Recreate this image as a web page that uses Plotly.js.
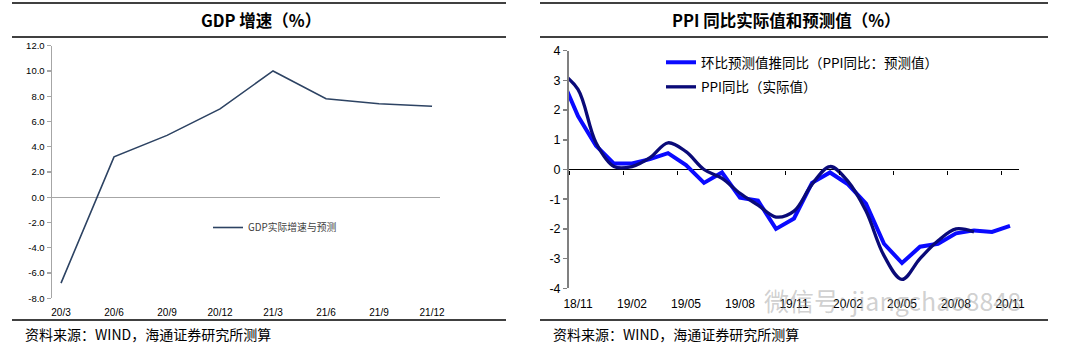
<!DOCTYPE html>
<html>
<head>
<meta charset="utf-8">
<script src="https://cdn.plot.ly/plotly-3.0.1.min.js"></script>
<style>
  html, body { margin: 0; padding: 0; background: #ffffff; }
  #chart { width: 1065px; height: 358px; }
</style>
</head>
<body>
<div id="chart"></div>
<script>
// ---------------- data ----------------
const gdpQuarters = ["20/3", "20/6", "20/9", "20/12", "21/3", "21/6", "21/9", "21/12"];
const gdpGrowth = [-6.8, 3.2, 4.9, 7.0, 10.0, 7.8, 7.4, 7.2];
const gdpSeriesName = "GDP实际增速与预测";

const ppiMonths = ["18/10", "18/11", "18/12", "19/01", "19/02", "19/03", "19/04", "19/05", "19/06",
  "19/07", "19/08", "19/09", "19/10", "19/11", "19/12", "20/01", "20/02", "20/03", "20/04",
  "20/05", "20/06", "20/07", "20/08", "20/09", "20/10", "20/11"];
const ppiForecast = [3.2, 1.8, 0.8, 0.2, 0.2, 0.35, 0.55, 0.15, -0.45, -0.1, -0.95, -1.05, -2.0,
  -1.65, -0.45, -0.1, -0.5, -1.15, -2.5, -3.15, -2.6, -2.5, -2.15, -2.05, -2.1, -1.9];
const ppiActual = [3.3, 2.7, 0.9, 0.1, 0.1, 0.4, 0.9, 0.6, 0.0, -0.3, -0.8, -1.2, -1.6, -1.4,
  -0.5, 0.1, -0.4, -1.4, -2.9, -3.7, -3.0, -2.4, -2.0, -2.1];
const ppiLabelMonths = ["18/11", "19/02", "19/05", "19/08", "19/11", "20/02", "20/05", "20/08", "20/11"];
const forecastName = "环比预测值推同比（PPI同比：预测值）";
const actualName = "PPI同比（实际值）";

const gdpTicks = [-8, -6, -4, -2, 0, 2, 4, 6, 8, 10, 12];
const ppiTicks = [-4, -3, -2, -1, 0, 1, 2, 3, 4];

// ---------------- helpers ----------------
const W = 1065, H = 358;
const px = v => v / W;
const py = v => 1 - v / H;
const FONT = "Liberation Sans, Arial, Noto Sans CJK SC, sans-serif";
const CJK = "Noto Sans CJK SC, Liberation Sans, sans-serif";

const idx = m => ppiMonths.indexOf(m);
const ppiX = ppiMonths.map((m, i) => i);
const labelIdx = ppiLabelMonths.map(idx);
const boundaryTicks = labelIdx.map(i => i - 0.5);

// ---------------- traces ----------------
const traces = [
  {
    type: "scatter", mode: "lines", name: gdpSeriesName,
    x: gdpQuarters, y: gdpGrowth, xaxis: "x", yaxis: "y",
    line: { color: "#2d4363", width: 1.6 },
    legend: "legend", hoverinfo: "skip"
  },
  {
    type: "scatter", mode: "lines", name: forecastName,
    x: ppiX.slice(0, ppiForecast.length), y: ppiForecast, xaxis: "x2", yaxis: "y2",
    line: { color: "#0a0aff", width: 4 },
    legend: "legend2", legendgroup: "f", hoverinfo: "skip"
  },
  {
    type: "scatter", mode: "lines", name: actualName,
    x: ppiX.slice(0, ppiActual.length), y: ppiActual, xaxis: "x2", yaxis: "y2",
    line: { color: "#0a0a78", width: 3.3, shape: "spline", smoothing: 1 },
    legend: "legend2", legendgroup: "a", hoverinfo: "skip"
  },
  {
    type: "scatter", mode: "lines", x: [], y: [], xaxis: "x3", yaxis: "y2",
    showlegend: false, hoverinfo: "skip"
  }
];

// ---------------- layout ----------------
const ruleY = [3, 37, 320];
const shapes = [];
ruleY.forEach(y => {
  shapes.push({ type: "line", xref: "paper", yref: "paper", x0: px(12), x1: px(506), y0: py(y), y1: py(y), line: { color: "#000", width: 1.5 } });
  shapes.push({ type: "line", xref: "paper", yref: "paper", x0: px(540), x1: px(1048), y0: py(y), y1: py(y), line: { color: "#000", width: 1.5 } });
});

const layout = {
  width: W, height: H,
  margin: { l: 0, r: 0, t: 0, b: 0 },
  paper_bgcolor: "#ffffff", plot_bgcolor: "rgba(0,0,0,0)",
  font: { family: FONT, color: "#000" },
  showlegend: true,
  // ---- left chart ----
  xaxis: {
    type: "category", domain: [px(52), px(440)], range: [-0.17, 7.15],
    anchor: "y", showline: false, showgrid: false, zeroline: false,
    ticks: "outside", ticklen: 5, tickcolor: "rgba(0,0,0,0)",
    tickfont: { family: FONT, size: 10, color: "#000" }
  },
  yaxis: {
    domain: [py(298.3), py(45.7)], range: [-8, 12], anchor: "x",
    tickvals: gdpTicks, ticktext: gdpTicks.map(v => v.toFixed(1)),
    showline: true, linecolor: "#a6a6a6", linewidth: 1.5,
    ticks: "outside", ticklen: 4, tickcolor: "#a6a6a6", tickwidth: 1.2,
    showgrid: false, zeroline: true, zerolinecolor: "#a6a6a6", zerolinewidth: 1.5,
    tickfont: { family: FONT, size: 9.5, color: "#000" }
  },
  // ---- right chart ----
  xaxis2: {
    type: "linear", domain: [px(569), px(1019)], range: [0.5, 25.5], anchor: "y2",
    tickvals: labelIdx, ticktext: ppiLabelMonths,
    showline: false, showgrid: false, zeroline: false,
    ticks: "outside", ticklen: 4, tickcolor: "rgba(0,0,0,0)",
    tickfont: { family: FONT, size: 12, color: "#000" }
  },
  xaxis3: {
    type: "linear", domain: [px(569), px(1019)], range: [0.5, 25.5],
    overlaying: "x2", anchor: "free", position: (py(288.3) + py(50.7)) / 2, side: "bottom",
    tickvals: boundaryTicks, showticklabels: false,
    showline: false, showgrid: false, zeroline: false,
    ticks: "outside", ticklen: 4, tickcolor: "#000", tickwidth: 1
  },
  yaxis2: {
    domain: [py(288.3), py(50.7)], range: [-4, 4], anchor: "x2",
    tickvals: ppiTicks, ticktext: ppiTicks.map(v => String(v)),
    showline: true, linecolor: "#808080", linewidth: 2,
    ticks: "outside", ticklen: 4, tickcolor: "#808080", tickwidth: 1.5,
    showgrid: false, zeroline: true, zerolinecolor: "#000", zerolinewidth: 1,
    tickfont: { family: FONT, size: 12.5, color: "#000" }
  },
  legend: {
    x: px(208), y: py(213), xanchor: "left", yanchor: "top",
    bgcolor: "rgba(0,0,0,0)", borderwidth: 0,
    font: { family: CJK, size: 9.8, color: "#404040" }
  },
  legend2: {
    x: px(661), y: py(47), xanchor: "left", yanchor: "top",
    bgcolor: "rgba(0,0,0,0)", borderwidth: 0, tracegroupgap: 4,
    font: { family: CJK, size: 13.5, color: "#000" }
  },
  shapes: shapes,
  annotations: [
    { xref: "paper", yref: "paper", x: px(261), y: py(20), xanchor: "center", yanchor: "middle", showarrow: false,
      text: "<b>GDP 增速（%）</b>", font: { family: CJK, size: 16.5, color: "#000" } },
    { xref: "paper", yref: "paper", x: px(786), y: py(20), xanchor: "center", yanchor: "middle", showarrow: false,
      text: "<b>PPI 同比实际值和预测值（%）</b>", font: { family: CJK, size: 16.5, color: "#000" } },
    { xref: "paper", yref: "paper", x: px(23), y: py(334), xanchor: "left", yanchor: "middle", showarrow: false,
      text: "资料来源：WIND，海通证券研究所测算", font: { family: CJK, size: 14, color: "#000" } },
    { xref: "paper", yref: "paper", x: px(551), y: py(334), xanchor: "left", yanchor: "middle", showarrow: false,
      text: "资料来源：WIND，海通证券研究所测算", font: { family: CJK, size: 14, color: "#000" } },
    { xref: "paper", yref: "paper", x: px(762), y: py(300), xanchor: "left", yanchor: "middle", showarrow: false,
      text: "微信号: jiangchao8848", font: { family: CJK, size: 25, color: "rgba(150,150,150,0.45)" } }
  ]
};

Plotly.newPlot("chart", traces, layout, { staticPlot: true, displayModeBar: false });
</script>
</body>
</html>
